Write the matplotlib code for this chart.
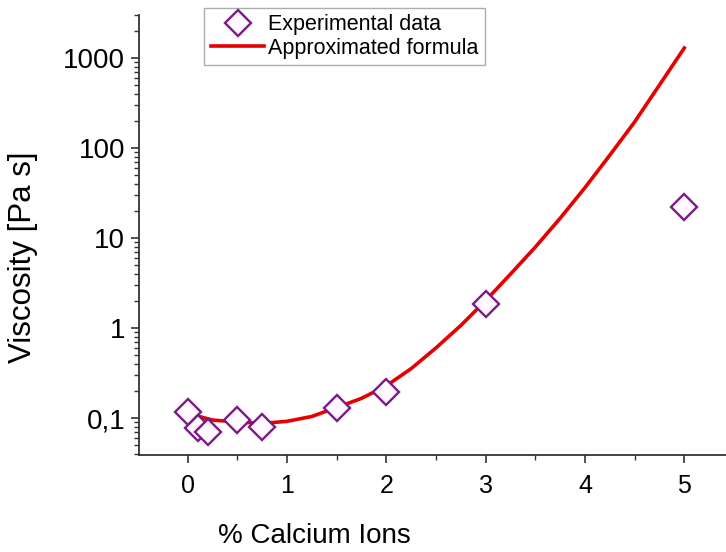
import matplotlib.pyplot as plt
from matplotlib.ticker import FixedLocator, NullFormatter, LogLocator

# measured viscosity vs calcium content
x_exp = [0, 0.1, 0.2, 0.5, 0.75, 1.5, 2, 3, 5]
y_exp = [0.117, 0.077, 0.070, 0.095, 0.080, 0.131, 0.196, 1.85, 22]

# approximated formula
x_fit = [0, 0.25, 0.5, 0.75, 1, 1.25, 1.5, 1.75, 2, 2.25, 2.5,
         2.75, 3, 3.25, 3.5, 3.75, 4, 4.25, 4.5, 4.75, 5]
y_fit = [0.113, 0.0953, 0.0908, 0.0875, 0.0923, 0.1045, 0.1315, 0.166, 0.229, 0.355, 0.603,
         1.07, 2.02, 3.98, 7.94, 16.6, 36.3, 83.2, 195, 501, 1290]

x_ticks = [0, 1, 2, 3, 4, 5]
y_ticks = [0.1, 1, 10, 100, 1000]
y_labels = ['0,1', '1', '10', '100', '1000']

plt.rcParams['font.family'] = ['Liberation Sans', 'DejaVu Sans']

fig = plt.figure(figsize=(7.26, 5.52), dpi=100)
ax = fig.add_axes([0.1915, 0.1757, 0.8085, 0.7971])

ax.plot(x_fit, y_fit, color='#e60000', lw=2.6, label='Approximated formula', zorder=2)
ax.plot(x_exp, y_exp, ls='none', marker='D', ms=13, mfc='#fff8ff', mec='#7a1a84',
        mew=1.7, label='Experimental data', zorder=3)

ax.set_yscale('log')
ax.set_xlim(-0.49, 5.42)
ax.set_ylim(0.039, 3000)

for s in ['top', 'right']:
    ax.spines[s].set_visible(False)
for s in ['left', 'bottom']:
    ax.spines[s].set_linewidth(1.3)
    ax.spines[s].set_color('#333333')

ax.set_xticks(x_ticks)
ax.xaxis.set_minor_locator(FixedLocator([-0.5, 0.5, 1.5, 2.5, 3.5, 4.5, 5.5]))
ax.set_yticks(y_ticks)
ax.set_yticklabels(y_labels)
ax.yaxis.set_minor_locator(LogLocator(base=10, subs=range(2, 10)))
ax.yaxis.set_minor_formatter(NullFormatter())
ax.tick_params(which='major', direction='out', length=6, width=1.2, color='#333333')
ax.tick_params(which='minor', direction='out', length=3.5, width=1.0, color='#333333')
ax.tick_params(axis='y', labelsize=20, pad=4)
ax.tick_params(axis='x', labelsize=18, pad=8)

ax.set_xlabel('% Calcium Ions', fontsize=20)
ax.xaxis.set_label_coords((314 - 139) / 587, -0.155)
ax.set_ylabel('Viscosity [Pa s]', fontsize=22.5)
ax.yaxis.set_label_coords((38 - 139) / 587, (455 - 257) / 440)

h, l = ax.get_legend_handles_labels()
leg = ax.legend(h[::-1], l[::-1], loc='upper left', bbox_to_anchor=(0.111, 1.016),
                borderaxespad=0, fontsize=15.5, frameon=True, fancybox=False,
                handlelength=2.5, handletextpad=0.15, borderpad=0.3, labelspacing=0.12)
leg.get_frame().set_edgecolor('#999999')
leg.get_frame().set_linewidth(1.0)

fig.savefig('out.png', dpi=100)
